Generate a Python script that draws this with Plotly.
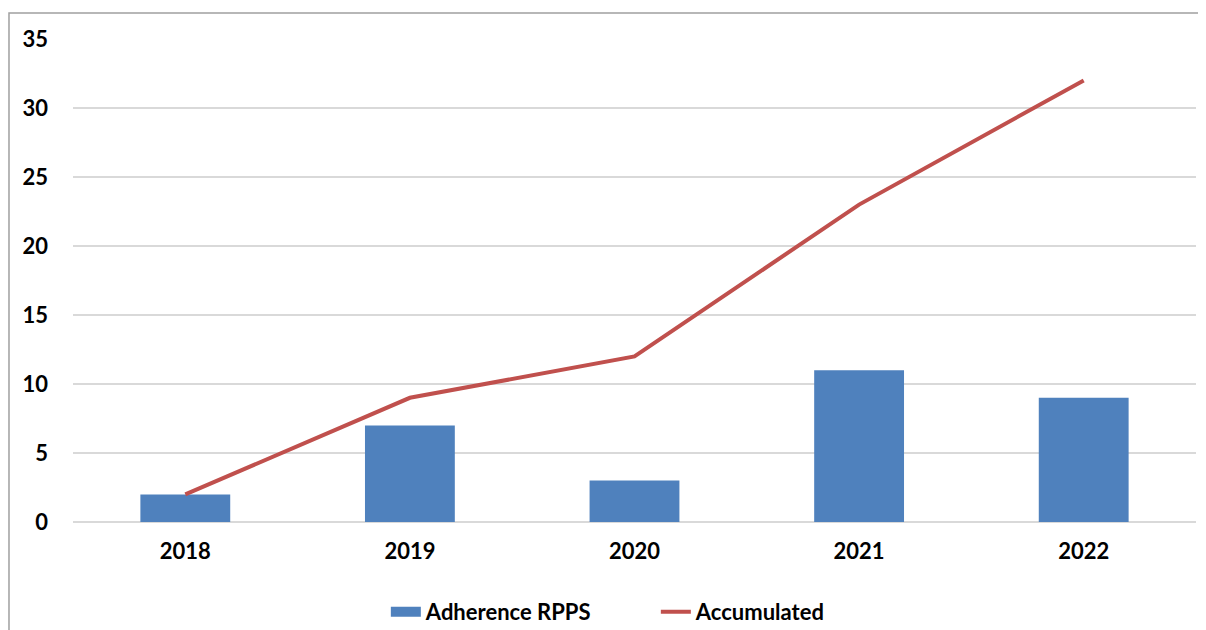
import plotly.graph_objects as go

years = ["2018", "2019", "2020", "2021", "2022"]
adherence = [2, 7, 3, 11, 9]
accumulated = [2, 9, 12, 23, 32]
y_ticks = [0, 5, 10, 15, 20, 25, 30, 35]

font_family = "Lato, 'Open Sans', sans-serif"
bar_color = "#4f81bd"
line_color = "#c0504d"

fig = go.Figure()
fig.add_trace(go.Bar(x=years, y=adherence, name="Adherence RPPS", showlegend=False,
                     marker=dict(color=bar_color, line=dict(width=0)), width=0.4))
# legend entry for the bars, drawn as a thick band like the original legend key
fig.add_trace(go.Scatter(x=[None], y=[None], name="Adherence RPPS", mode="lines",
                         line=dict(color=bar_color, width=16)))
fig.add_trace(go.Scatter(x=years, y=accumulated, name="Accumulated", mode="lines",
                         line=dict(color=line_color, width=4)))

# the page body adds an 8px margin, so the figure is sized to fill the rest
fig.update_layout(
    width=1198, height=622,
    margin=dict(l=65, r=10, t=31, b=108, autoexpand=False),
    plot_bgcolor="white", paper_bgcolor="white",
    font=dict(family=font_family, size=22, color="black"),
    showlegend=True,
    legend=dict(orientation="h", x=0.519, xanchor="center", y=-0.186, yanchor="middle",
                font=dict(size=22, family=font_family, weight="bold"),
                traceorder="normal", entrywidth=225, tracegroupgap=0),
    xaxis=dict(showgrid=False, showline=False, ticks="", automargin=False,
               tickfont=dict(size=22, weight="bold"), ticklabelstandoff=14),
    yaxis=dict(range=[0, 35], tickvals=y_ticks, showgrid=True, gridcolor="#d9d9d9",
               gridwidth=1.5, zeroline=True, zerolinecolor="#d9d9d9", zerolinewidth=1.5,
               showline=False, ticks="", tickfont=dict(size=22, weight="bold"),
               ticklabelstandoff=24, automargin=False),
    bargap=0.6,
    shapes=[dict(type="rect", xref="paper", yref="paper", x0=-0.057, x1=1.2,
                 y0=-0.4, y1=1.054, line=dict(color="#a0a0a0", width=1.5),
                 fillcolor="rgba(0,0,0,0)", layer="below")],
)

fig.write_html("out.html")
